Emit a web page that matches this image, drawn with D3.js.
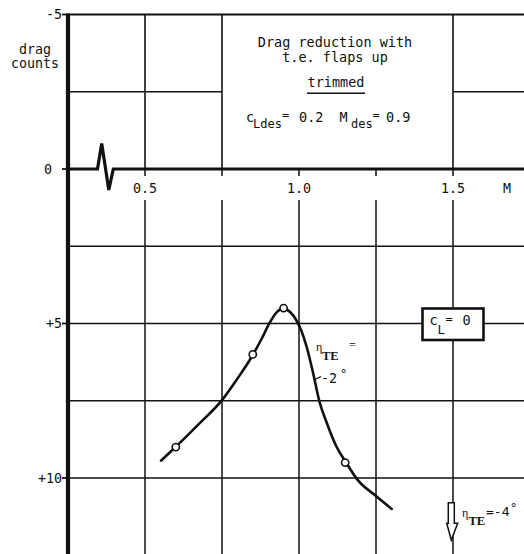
<!DOCTYPE html>
<html>
<head>
<meta charset="utf-8">
<script src="https://cdn.jsdelivr.net/npm/d3@7"></script>
<style>
html,body{margin:0;padding:0;background:#fff;}
svg{display:block;}
text{font-family:"DejaVu Sans Mono",monospace;fill:#111;}
.serif{font-family:"Liberation Serif",serif;}
</style>
</head>
<body>
<svg id="chart" width="524" height="554"></svg>
<script>
// ---- data ----
const curveMach = [0.552,0.600,0.672,0.750,0.799,0.850,0.880,0.904,0.928,0.951,0.971,0.990,1.007,1.025,1.046,1.066,1.090,1.122,1.153,1.187,1.252,1.301];
const curveDrag = [9.44,8.99,8.28,7.48,6.80,6.02,5.47,4.99,4.63,4.51,4.63,4.87,5.22,5.76,6.61,7.51,8.21,8.99,9.50,10.02,10.60,11.00];
const pointMach = [0.60,0.85,0.95,1.15];
const pointDrag = [9.0,6.0,4.5,9.5];
const xTickValues = [0.5,1.0,1.5];
const xTickLabels = ["0.5","1.0","1.5"];
const xGridValues = [0.5,0.75,1.0,1.25,1.5];
const yTickValues = [-5,0,5,10];
const yTickLabels = ["-5","0","+5","+10"];
const yGridValues = [-2.5,2.5,5,7.5,10];

const svg = d3.select("#chart");
const x = d3.scaleLinear().domain([0.25,1.75]).range([68,530]);
const y = d3.scaleLinear().domain([-5,10]).range([14.5,478]);
const W = 524, H = 554;
const ink = "#111";
const boxL = x(0.75), boxR = x(1.5);

// vertical grid lines below the axis labels
const g = svg.append("g");
xGridValues.forEach(v => {
  g.append("line").attr("x1",x(v)).attr("x2",x(v)).attr("y1",200).attr("y2",H)
    .attr("stroke",ink).attr("stroke-width",1.5);
});
// vertical lines above zero line (outside title box + box edges)
[0.5,0.75,1.5].forEach(v => {
  g.append("line").attr("x1",x(v)).attr("x2",x(v)).attr("y1",y(-5)).attr("y2",y(0))
    .attr("stroke",ink).attr("stroke-width",1.6);
});
// horizontal grid lines
yGridValues.forEach(v => {
  if (v < 0) {
    g.append("line").attr("x1",x(0.25)).attr("x2",boxL).attr("y1",y(v)).attr("y2",y(v))
      .attr("stroke",ink).attr("stroke-width",1.5);
    g.append("line").attr("x1",boxR).attr("x2",W).attr("y1",y(v)).attr("y2",y(v))
      .attr("stroke",ink).attr("stroke-width",1.5);
  } else {
    g.append("line").attr("x1",x(0.25)).attr("x2",W).attr("y1",y(v)).attr("y2",y(v))
      .attr("stroke",ink).attr("stroke-width",1.5);
  }
});
// top line
g.append("line").attr("x1",x(0.25)).attr("x2",W).attr("y1",y(-5)).attr("y2",y(-5))
  .attr("stroke",ink).attr("stroke-width",2);

// zero line with break symbol
const y0 = y(0);
const zp = d3.path();
zp.moveTo(x(0.25), y0);
zp.lineTo(97.5, y0);
zp.lineTo(101.7, 143.5);
zp.lineTo(108.8, 190);
zp.lineTo(113.3, y0);
zp.lineTo(W, y0);
svg.append("path").attr("d",zp.toString()).attr("fill","none").attr("stroke",ink)
  .attr("stroke-width",3.2).attr("stroke-linejoin","miter");

// x ticks below zero line
xGridValues.forEach(v => {
  svg.append("line").attr("x1",x(v)).attr("x2",x(v)).attr("y1",y0).attr("y2",y0+7)
    .attr("stroke",ink).attr("stroke-width",1.5);
});
xTickValues.forEach((v,i) => {
  svg.append("text").attr("x",x(v)).attr("y",193).attr("text-anchor","middle")
    .attr("font-size",13.3).text(xTickLabels[i]);
});
svg.append("text").attr("x",x(1.675)).attr("y",193).attr("text-anchor","middle")
  .attr("font-size",13.3).text("M");

// left axis
svg.append("line").attr("x1",x(0.25)).attr("x2",x(0.25)).attr("y1",y(-5)-1).attr("y2",H)
  .attr("stroke",ink).attr("stroke-width",4.2);
yTickValues.forEach((v,i) => {
  svg.append("line").attr("x1",x(0.25)-6).attr("x2",x(0.25)).attr("y1",y(v)).attr("y2",y(v))
    .attr("stroke",ink).attr("stroke-width",1.8);
  svg.append("text").attr("x", v===0 ? 52 : 62).attr("y",y(v)).attr("dy","0.36em")
    .attr("text-anchor","end").attr("font-size",13.3).text(yTickLabels[i]);
});
svg.append("text").attr("x",35).attr("y",54).attr("text-anchor","middle").attr("font-size",13.3).text("drag");
svg.append("text").attr("x",35).attr("y",68).attr("text-anchor","middle").attr("font-size",13.3).text("counts");

// title box text
const cx = 335;
svg.append("text").attr("x",cx).attr("y",46.5).attr("text-anchor","middle").attr("font-size",13.5).text("Drag reduction with");
svg.append("text").attr("x",cx).attr("y",62).attr("text-anchor","middle").attr("font-size",13.5).text("t.e. flaps up");
svg.append("text").attr("x",336).attr("y",87).attr("text-anchor","middle").attr("font-size",13.5).text("trimmed");
svg.append("line").attr("x1",307).attr("x2",365).attr("y1",93.3).attr("y2",93.3).attr("stroke",ink).attr("stroke-width",1.5);
const t4 = svg.append("text").attr("font-size",13.5);
t4.append("tspan").attr("x",246).attr("y",121.7).text("c");
t4.append("tspan").attr("x",253).attr("y",128.3).attr("font-size",12).text("Ldes");
t4.append("tspan").attr("x",282).attr("y",119).attr("font-size",12).text("=");
t4.append("tspan").attr("x",299).attr("y",121.7).text("0.2");
t4.append("tspan").attr("x",339.5).attr("y",121.7).text("M");
t4.append("tspan").attr("x",351).attr("y",128.3).attr("font-size",12).text("des");
t4.append("tspan").attr("x",372.5).attr("y",119).attr("font-size",12).text("=");
t4.append("tspan").attr("x",386).attr("y",121.7).text("0.9");

// c_L = 0 box
svg.append("rect").attr("x",422.5).attr("y",308.5).attr("width",61).attr("height",31.5)
  .attr("fill","#fff").attr("stroke",ink).attr("stroke-width",2.6);
const t5 = svg.append("text").attr("font-size",13.5);
t5.append("tspan").attr("x",429.5).attr("y",325).text("c");
t5.append("tspan").attr("x",437.5).attr("y",333.5).attr("font-size",12.5).text("L");
t5.append("tspan").attr("x",445.5).attr("y",323).attr("font-size",12).text("=");
t5.append("tspan").attr("x",462.5).attr("y",325).text("0");

// curve
const line = d3.line().x(d => x(d[0])).y(d => y(d[1])).curve(d3.curveMonotoneX);
svg.append("path").datum(curveMach.map((m,i) => [m, curveDrag[i]]))
  .attr("d", line).attr("fill","none").attr("stroke",ink).attr("stroke-width",2.6)
  .attr("stroke-linecap","round");
svg.selectAll("circle.pt").data(pointMach.map((m,i) => [m, pointDrag[i]])).enter()
  .append("circle").attr("class","pt").attr("cx",d => x(d[0])).attr("cy",d => y(d[1]))
  .attr("r",3.6).attr("fill","#fff").attr("stroke",ink).attr("stroke-width",1.6);

// eta_TE = -2 deg label
const t6 = svg.append("text").attr("class","serif").attr("font-size",13);
t6.append("tspan").attr("x",316).attr("y",351).attr("font-size",12).text("η");
t6.append("tspan").attr("x",322).attr("y",359.5).attr("font-weight","bold").attr("font-size",12.5).text("TE");
t6.append("tspan").attr("x",349).attr("y",349).attr("font-size",12).text("=");
svg.append("line").attr("x1",315).attr("y1",379.5).attr("x2",321).attr("y2",376.5).attr("stroke",ink).attr("stroke-width",1.3);
const t7 = svg.append("text").attr("font-size",13.3);
t7.append("tspan").attr("x",321).attr("y",383).text("-2");
t7.append("tspan").attr("x",340).attr("y",378).attr("font-size",12).text("°");

// arrow eta_TE = -4 deg
const ap = d3.path();
ap.moveTo(448.3, 502.7); ap.lineTo(454.3, 502.7); ap.lineTo(454.3, 523.3);
ap.lineTo(457.7, 523.3); ap.lineTo(451.3, 540); ap.lineTo(446.7, 523.3);
ap.lineTo(448.3, 523.3); ap.closePath();
svg.append("path").attr("d",ap.toString()).attr("fill","#fff").attr("stroke",ink).attr("stroke-width",1.5);
const t8 = svg.append("text").attr("class","serif").attr("font-size",13);
t8.append("tspan").attr("x",462).attr("y",517).attr("font-size",12).text("η");
t8.append("tspan").attr("x",468.5).attr("y",524.5).attr("font-weight","bold").attr("font-size",12.5).text("TE");
const t9 = svg.append("text").attr("font-size",13);
t9.append("tspan").attr("x",486).attr("y",516).text("=-4");
t9.append("tspan").attr("x",510).attr("y",512).attr("font-size",12).text("°");
</script>
</body>
</html>
